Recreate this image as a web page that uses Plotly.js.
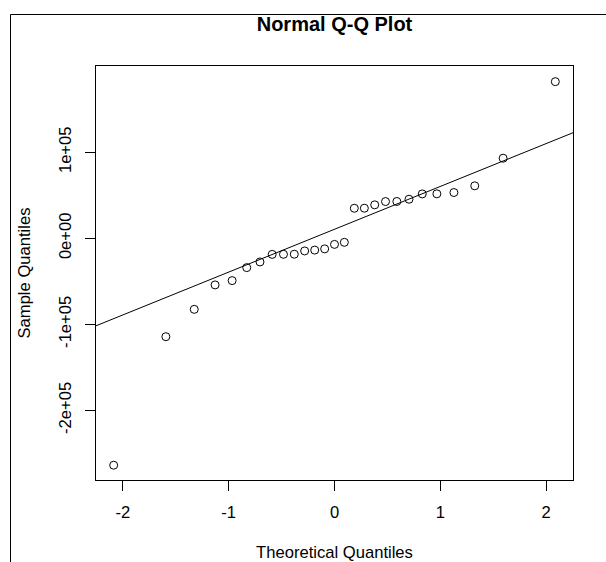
<!DOCTYPE html>
<html>
<head>
<meta charset="utf-8">
<script src="https://cdn.plot.ly/plotly-3.0.1.min.js"></script>
<style>
html, body { margin: 0; padding: 0; background: #fff; }
#chart { width: 606px; height: 562px; }
</style>
</head>
<body>
<div id="chart"></div>
<script>
// Theoretical normal quantiles (n = 27)
var theoretical = [-2.086, -1.593, -1.325, -1.128, -0.967, -0.829, -0.704, -0.589, -0.482,
  -0.380, -0.282, -0.187, -0.093, 0, 0.093, 0.187, 0.282, 0.380, 0.482, 0.589, 0.704,
  0.829, 0.967, 1.128, 1.325, 1.593, 2.086];
// Sample quantiles
var sample = [-263800, -114400, -82600, -54200, -49200, -34100, -27500, -18700, -18600,
  -18500, -14700, -13700, -12300, -7100, -4700, 34900, 35000, 38900, 42700, 42800,
  45400, 51600, 51700, 53200, 61000, 93100, 182100];
var xTickVals = [-2, -1, 0, 1, 2];
var xTickText = ['-2', '-1', '0', '1', '2'];
var yTickVals = [-200000, -100000, 0, 100000];
var yTickText = ['-2e+05', '-1e+05', '0e+00', '1e+05'];

// qqline through the first and third quartiles (type 7 quantiles)
function quantile7(arr, p) {
  var s = arr.slice().sort(function (a, b) { return a - b; });
  var h = (s.length - 1) * p;
  var lo = Math.floor(h);
  return s[lo] + (h - lo) * ((s[lo + 1] !== undefined ? s[lo + 1] : s[lo]) - s[lo]);
}
var q25 = quantile7(sample, 0.25), q75 = quantile7(sample, 0.75);
var z25 = -0.6744897501960817, z75 = 0.6744897501960817;
var slope = (q75 - q25) / (z75 - z25);
var intercept = q25 - slope * z25;
var lineX = [-3, 3];
var lineY = lineX.map(function (x) { return intercept + slope * x; });

var font = 'Liberation Sans, Arial, Helvetica, sans-serif';
var fs = 16.6;

var traces = [
  {
    x: lineX, y: lineY, type: 'scatter', mode: 'lines',
    line: { color: '#000', width: 1 }, hoverinfo: 'skip', showlegend: false
  },
  {
    x: theoretical, y: sample, type: 'scatter', mode: 'markers',
    marker: { symbol: 'circle-open', size: 8, color: '#000', line: { width: 1, color: '#000' } },
    showlegend: false
  }
];

var L = 96, R = 606 - 573, T = 66, B = 562 - 480;
var pw = 606 - L - R, ph = 562 - T - B;
function px2paperX(px) { return (px - L) / pw; }
function px2paperY(py) { return (562 - B - py) / ph; }

var layout = {
  width: 606, height: 562,
  margin: { l: L, r: R, t: T, b: B, autoexpand: false },
  paper_bgcolor: '#fff', plot_bgcolor: '#fff',
  font: { family: font, size: fs, color: '#000' },
  title: {
    text: '<b>Normal Q-Q Plot</b>',
    font: { family: font, size: 20, color: '#000' },
    x: 0.5, xref: 'paper', xanchor: 'center',
    y: 1 - 24 / 562, yref: 'container', yanchor: 'middle'
  },
  xaxis: {
    range: [-2.253, 2.253],
    tickvals: xTickVals, ticktext: xTickText,
    ticks: 'outside', ticklen: 10, tickwidth: 1, tickcolor: '#000',
    ticklabelstandoff: 7,
    showline: true, mirror: true, linecolor: '#000', linewidth: 1,
    showgrid: false, zeroline: false,
    tickfont: { family: font, size: fs, color: '#000' },
    title: { text: 'Theoretical Quantiles', font: { family: font, size: fs, color: '#000' }, standoff: 30 }
  },
  yaxis: {
    range: [-281000, 200300],
    tickvals: yTickVals, ticktext: yTickText, tickangle: -90,
    ticks: 'outside', ticklen: 10, tickwidth: 1, tickcolor: '#000',
    ticklabelstandoff: 7,
    showline: true, mirror: true, linecolor: '#000', linewidth: 1,
    showgrid: false, zeroline: false,
    tickfont: { family: font, size: fs, color: '#000' },
    title: { text: 'Sample Quantiles', font: { family: font, size: fs, color: '#000' }, standoff: 21 }
  },
  shapes: [
    { type: 'line', xref: 'paper', yref: 'paper', x0: px2paperX(10.5), x1: px2paperX(620), y0: px2paperY(14.5), y1: px2paperY(14.5), line: { color: '#000', width: 1 } },
    { type: 'line', xref: 'paper', yref: 'paper', x0: px2paperX(10.5), x1: px2paperX(10.5), y0: px2paperY(14.5), y1: px2paperY(580), line: { color: '#000', width: 1 } }
  ]
};

Plotly.newPlot('chart', traces, layout, { displayModeBar: false, staticPlot: true });
</script>
</body>
</html>
